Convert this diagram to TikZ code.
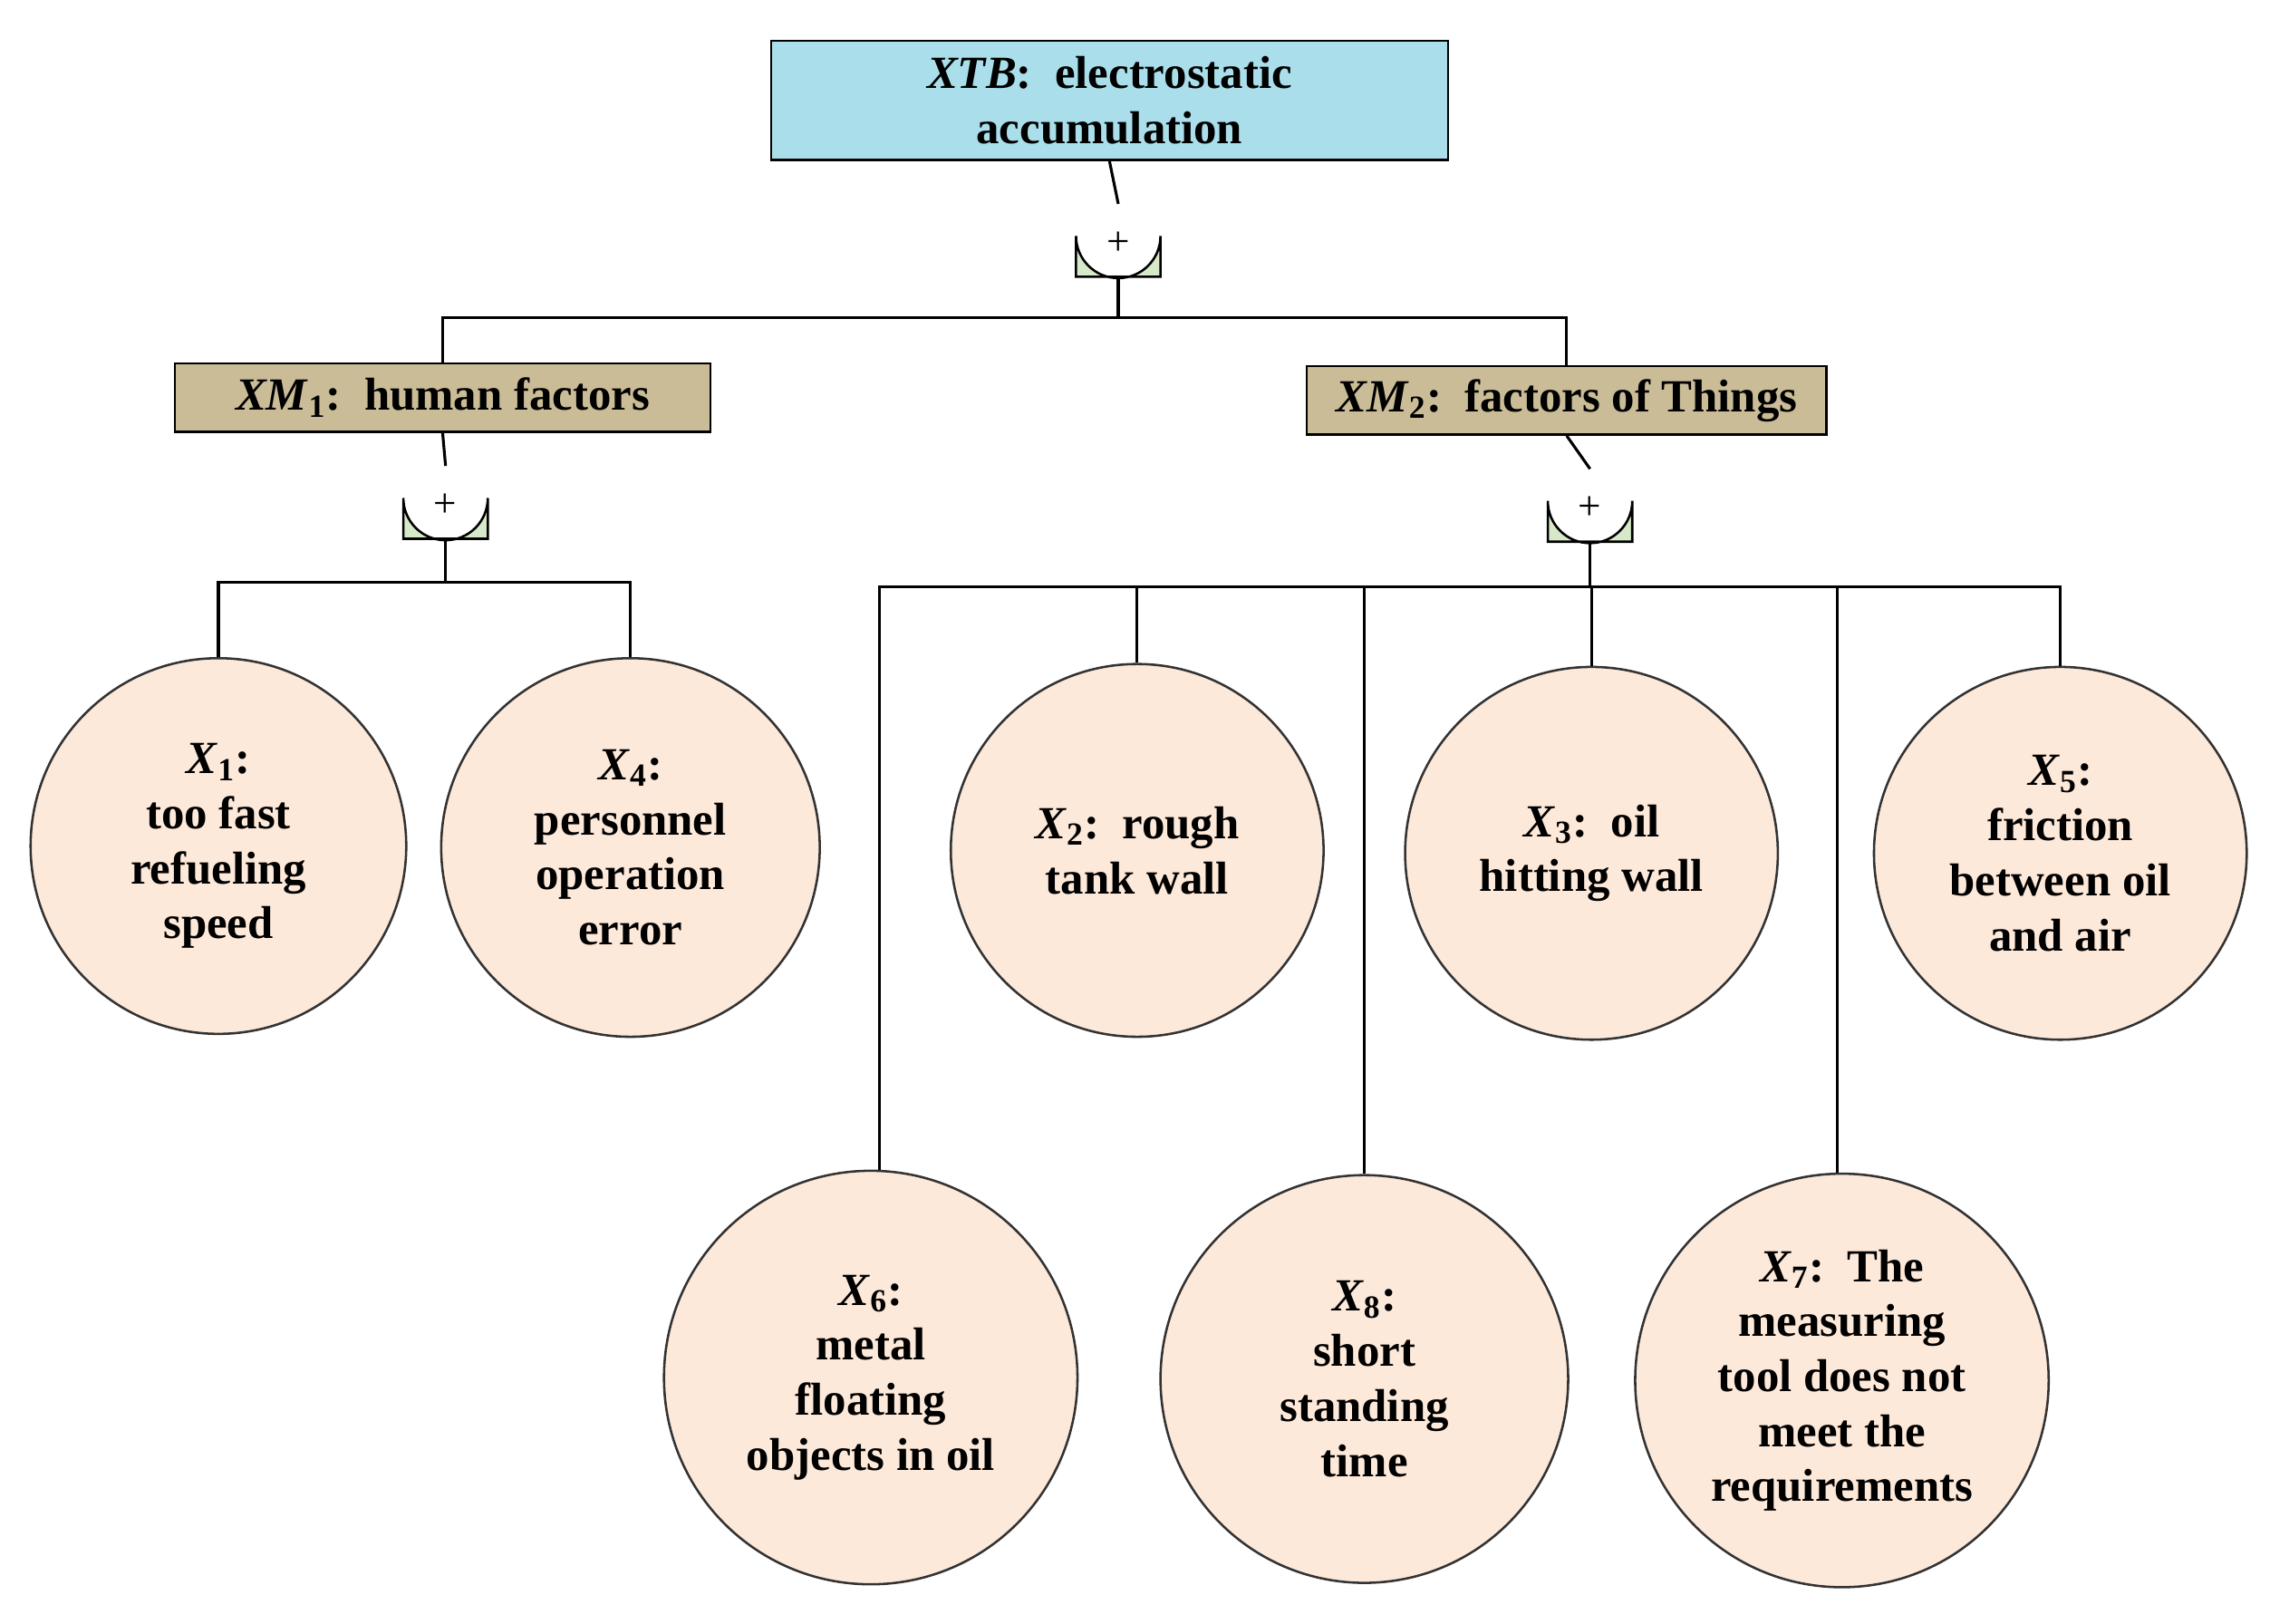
\documentclass[tikz,border=0pt]{standalone}
\usepackage{fontspec}
\setmainfont{Liberation Serif}
\begin{document}
\begin{tikzpicture}[x=0.02cm,y=-0.02cm,
  txt/.style={font=\fontsize{18}{21.5}\selectfont\bfseries,align=center},
  box/.style={draw=black,line width=0.9pt,txt,inner sep=0pt},
  ev/.style={circle,draw=black!80,line width=0.9pt,fill=evc,txt,inner sep=0pt},
  ln/.style={line width=1.1pt}]
\definecolor{topc}{HTML}{A9DEEA}
\definecolor{midc}{HTML}{C9BC96}
\definecolor{gatec}{HTML}{D6E9C9}
\definecolor{evc}{HTML}{FDE9DA}
\useasboundingbox (0,0) rectangle (1559,1115);
\newcommand{\orgate}[3]{% name, x, ytop
  \draw[line width=0.9pt,fill=gatec] (#2-29,#3+50) -- (#2-29,#3+22) arc[start angle=180,end angle=0,radius=29] -- (#2+29,#3+50) -- cycle;
  \node[inner sep=0pt,font=\fontsize{16}{16}\selectfont] at (#2,#3+27) {+};
  \coordinate (#1n) at (#2,#3); \coordinate (#1s) at (#2,#3+50);}
\node[box,fill=topc,minimum width=465*0.02cm,minimum height=82*0.02cm] (top) at (762,69) {\textit{XTB}:\ \ electrostatic\\accumulation};
\node[box,fill=midc,minimum width=368*0.02cm,minimum height=47*0.02cm] (m1) at (304,273) {\textit{XM}$_{\mathbf 1}$:\ \ human factors};
\node[box,fill=midc,minimum width=357*0.02cm,minimum height=47*0.02cm] (m2) at (1076,275) {\textit{XM}$_{\mathbf 2}$:\ \ factors of Things};
\orgate{g0}{768}{140}
\orgate{g1}{306}{320}
\orgate{g2}{1092}{322}
\node[ev,minimum size=258*0.02cm] (x1) at (150,581) {\textit{X}$_{\mathbf 1}$:\\too fast\\refueling\\speed};
\node[ev,minimum size=260*0.02cm] (x4) at (433,582) {\textit{X}$_{\mathbf 4}$:\\personnel\\operation\\error};
\node[ev,minimum size=256*0.02cm] (x2) at (781,584) {\textit{X}$_{\mathbf 2}$:\ \ rough\\tank wall};
\node[ev,minimum size=256*0.02cm] (x3) at (1093,586) {\textit{X}$_{\mathbf 3}$:\ \ oil\\hitting wall};
\node[ev,minimum size=256*0.02cm] (x5) at (1415,586) {\textit{X}$_{\mathbf 5}$:\\friction\\between oil\\and air};
\node[ev,minimum size=284*0.02cm] (x6) at (598,946) {\textit{X}$_{\mathbf 6}$:\\metal\\floating\\objects in oil};
\node[ev,minimum size=280*0.02cm] (x8) at (937,947) {\textit{X}$_{\mathbf 8}$:\\short\\standing\\time};
\node[ev,minimum size=284*0.02cm] (x7) at (1265,948) {\textit{X}$_{\mathbf 7}$:\ \ The\\measuring\\tool does not\\meet the\\requirements};
\coordinate (j0) at (768,218);
\coordinate (j1) at (306,400);
\coordinate (j2) at (1092,403);
\draw[ln] (top.south) -- (g0n);
\draw[ln] (g0s) -- (j0);
\draw[ln] (m1.north) |- (j0) -| (m2.north);
\draw[ln] (m1.south) -- (g1n);
\draw[ln] (m2.south) -- (g2n);
\draw[ln] (g1s) -- (j1);
\draw[ln] (g2s) -- (j2);
\draw[ln] (x1.north) |- (j1) -| (x4.north);
\draw[ln] ([xshift=6*0.02cm]x6.north) |- (j2) -| (x5.north);
\draw[ln] (x2.north) -- (x2.north |- j2);
\draw[ln] (x8.north) -- (x8.north |- j2);
\draw[ln] (x3.north) -- (x3.north |- j2);
\draw[ln] ([xshift=-3*0.02cm]x7.north) -- ([xshift=-3*0.02cm]x7.north |- j2);
\end{tikzpicture}
\end{document}
